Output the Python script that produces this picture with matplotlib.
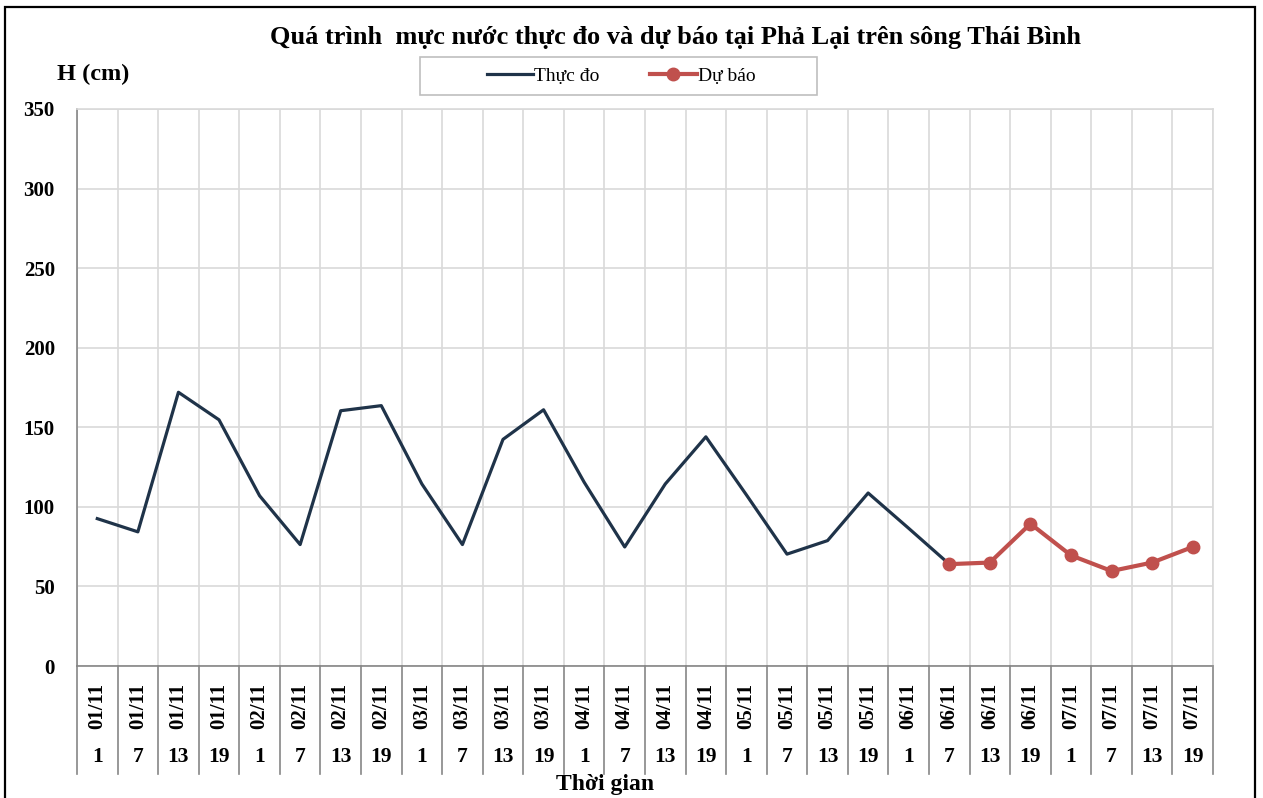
import matplotlib.pyplot as plt
from matplotlib.patches import Rectangle
from matplotlib.transforms import blended_transform_factory

plt.rcParams["font.family"] = ["Liberation Serif", "DejaVu Serif"]

# Data
dates = ["01/11"] * 4 + ["02/11"] * 4 + ["03/11"] * 4 + ["04/11"] * 4 + \
        ["05/11"] * 4 + ["06/11"] * 4 + ["07/11"] * 4
hours = ["1", "7", "13", "19"] * 7

thuc_do = [92.6, 84.3, 172, 154.7, 107, 76.3, 160.4, 163.6,
           114.4, 76.3, 142.4, 161, 115.5, 74.8, 114.4, 144,
           107.5, 70.3, 78.8, 108.7, 86.5, 64]
du_bao = [64, 65, 89.4, 69.5, 59.7, 65, 74.8]
du_bao_start = 21

NAVY = "#1f3349"
RED = "#c0504d"
GRID = "#d9d9d9"
AXIS = "#868686"

fig = plt.figure(figsize=(12.63, 7.98), dpi=100)
fig.patch.set_facecolor("white")
ax = fig.add_axes([77 / 1263, 1 - 666 / 798, (1213 - 77) / 1263, (666 - 109) / 798])

n = len(dates)
xa = list(range(len(thuc_do)))
xf = list(range(du_bao_start, du_bao_start + len(du_bao)))

ax.plot(xa, thuc_do, color=NAVY, lw=2.3, label="Thực đo", zorder=3)
ax.plot(xf, du_bao, color=RED, lw=3, marker="o", markersize=9,
        label="Dự báo", zorder=4)

ax.set_xlim(-0.5, n - 0.5)
ax.set_ylim(0, 350)
ax.set_yticks(range(0, 351, 50))
ax.set_yticklabels([str(v) for v in range(0, 351, 50)],
                   fontsize=15, fontweight="bold")
ax.tick_params(axis="y", length=0, pad=16)

ax.set_xticks([i - 0.5 for i in range(n + 1)], minor=True)
ax.set_xticks([])
ax.grid(axis="y", color=GRID, lw=1.2)
ax.grid(axis="x", which="minor", color=GRID, lw=1.2)
ax.tick_params(axis="x", which="minor", length=0)
ax.set_axisbelow(True)

for s in ["left", "bottom"]:
    ax.spines[s].set_color(AXIS)
    ax.spines[s].set_linewidth(1.2)
for s in ["top", "right"]:
    ax.spines[s].set_color(GRID)
    ax.spines[s].set_linewidth(1.2)

# category table below the axis
tr = blended_transform_factory(ax.transData, ax.transAxes)
for i in range(n + 1):
    ax.plot([i - 0.5, i - 0.5], [0, -0.193], color=AXIS, lw=1.2,
            transform=tr, clip_on=False)
for i in range(n):
    ax.text(i, -(706 - 666) / 557, dates[i], transform=tr, rotation=90,
            ha="center", va="center", fontsize=15, fontweight="bold")
    ax.text(i, -(757.5 - 666) / 557, hours[i], transform=tr, ha="center",
            va="center", fontsize=15.5, fontweight="bold")

# texts
fig.text(675 / 1263, 1 - 44 / 798,
         "Quá trình  mực nước thực đo và dự báo tại Phả Lại trên sông Thái Bình",
         ha="center", va="baseline", fontsize=19, fontweight="bold")
fig.text(57 / 1263, 1 - 80 / 798, "H (cm)", ha="left", va="baseline",
         fontsize=17.5, fontweight="bold")
fig.text(605 / 1263, 1 - 790 / 798, "Thời gian", ha="center", va="baseline",
         fontsize=17, fontweight="bold")

# legend
fig.patches.append(Rectangle((420 / 1263, 1 - 95 / 798), 397 / 1263, 38 / 798,
                             transform=fig.transFigure, facecolor="white",
                             edgecolor="#bfbfbf", lw=1.2))
fig.legend(loc="center", bbox_to_anchor=(621 / 1263, 1 - 76 / 798), ncol=2,
           frameon=False, fontsize=14, handlelength=2.4, handletextpad=0.05,
           columnspacing=2.6)

# outer frame
fig.patches.append(Rectangle((5 / 1263, -0.02), 1250 / 1263, 1.02 - 7 / 798,
                             transform=fig.transFigure, fill=False,
                             edgecolor="black", lw=1.6))

fig.savefig("out.png", dpi=100, facecolor="white")
